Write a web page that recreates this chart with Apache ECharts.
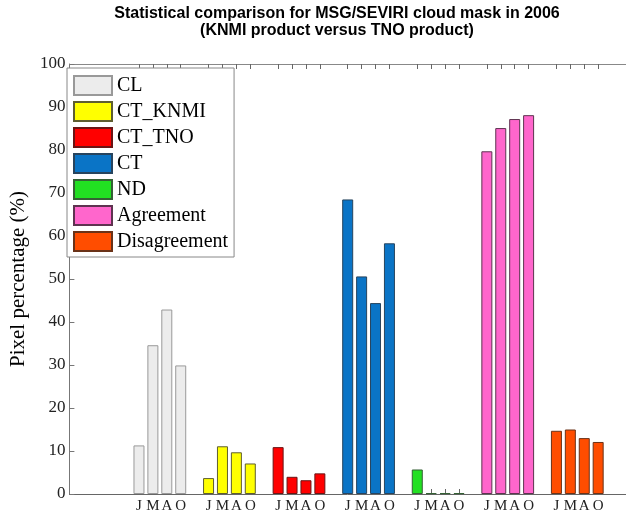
<!DOCTYPE html>
<html>
<head>
<meta charset="utf-8">
<script src="https://cdn.jsdelivr.net/npm/echarts@6/dist/echarts.min.js"></script>
<style>html,body{margin:0;padding:0;background:#fff}#c{width:626px;height:516px}</style>
</head>
<body>
<div id="c"></div>
<script>
const months = ['J', 'M', 'A', 'O'];
const seriesNames = ['CL', 'CT_KNMI', 'CT_TNO', 'CT', 'ND', 'Agreement', 'Disagreement'];
const CL = [11.3, 34.6, 42.9, 29.9];
const CT_KNMI = [3.7, 11.1, 9.7, 7.1];
const CT_TNO = [10.9, 4.0, 3.2, 4.8];
const CT = [68.5, 50.6, 44.4, 58.3];
const ND = [5.7, 0.2, 0.2, 0.2];
const Agreement = [79.7, 85.1, 87.2, 88.1];
const Disagreement = [14.7, 15.0, 13.0, 12.1];
const yTicks = [0, 10, 20, 30, 40, 50, 60, 70, 80, 90, 100];

const values = [CL, CT_KNMI, CT_TNO, CT, ND, Agreement, Disagreement];
const fills = ['#ececec', '#ffff00', '#ff0000', '#0a74c6', '#22e022', '#ff66cc', '#ff4d00'];
const borders = ['#999999', '#5e5e30', '#6a1414', '#27445e', '#356035', '#5e3350', '#6a3218'];

// bar positions: group g (1-based) occupies slots 5g .. 5g+3
const positions = [];
const labelAt = {};
values.forEach((v, g) => v.forEach((_, i) => { const p = 5 * (g + 1) + i; positions.push(p); labelAt[p] = months[i]; }));

const serif = 'Liberation Serif';
const chart = echarts.init(document.getElementById('c'), null, {renderer: 'canvas'});
chart.setOption({
  animation: false,
  backgroundColor: '#fff',
  title: {
    text: 'Statistical comparison for MSG/SEVIRI cloud mask in 2006\n(KNMI product versus TNO product)',
    left: 332, top: 0, textAlign: 'center',
    textStyle: {fontFamily: 'Liberation Sans', fontWeight: 'bold', fontSize: 16, lineHeight: 17, color: '#000'}
  },
  legend: {
    orient: 'vertical', left: 67, top: 68,
    data: seriesNames,
    icon: 'rect', itemWidth: 38, itemHeight: 19, itemGap: 5,
    backgroundColor: '#fff', borderColor: '#888', borderWidth: 1,
    padding: [7, 6, 5, 6],
    textStyle: {fontFamily: serif, fontSize: 20, color: '#000'}
  },
  grid: {left: 62, top: 64, width: 572, height: 430, containLabel: false},
  xAxis: [{
    type: 'value', min: 0, max: 40, interval: 1, position: 'bottom',
    axisLine: {show: true, lineStyle: {color: '#666'}},
    axisTick: {show: true, inside: true, length: 5, customValues: positions, lineStyle: {color: '#666'}},
    axisLabel: {show: true, customValues: positions, formatter: v => labelAt[v] || '', margin: 5,
      fontFamily: serif, fontSize: 15, color: '#222'},
    splitLine: {show: false}
  }, {
    type: 'value', min: 0, max: 40, interval: 1, position: 'top',
    axisLine: {show: true, onZero: false, lineStyle: {color: '#888'}},
    axisTick: {show: true, inside: true, length: 5, customValues: positions, lineStyle: {color: '#666'}},
    axisLabel: {show: false},
    splitLine: {show: false}
  }],
  yAxis: [{
    type: 'value', min: 0, max: 100, interval: 10,
    name: 'Pixel percentage (%)', nameLocation: 'middle', nameGap: 34,
    nameTextStyle: {fontFamily: serif, fontSize: 21, color: '#000'},
    axisLine: {show: true, lineStyle: {color: '#777'}},
    axisTick: {show: true, inside: true, length: 5, lineStyle: {color: '#777'}},
    axisLabel: {fontFamily: serif, fontSize: 17, color: '#222', margin: 4,
      formatter: v => yTicks.includes(v) ? String(v) : ''},
    splitLine: {show: false}
  }],
  series: values.map((vals, g) => ({
    name: seriesNames[g], type: 'bar', xAxisIndex: 0, barWidth: 11, barGap: '-100%',
    data: vals.map((y, i) => [5 * (g + 1) + i, y]),
    itemStyle: {color: fills[g], borderColor: borders[g], borderWidth: 1}
  }))
});
</script>
</body>
</html>
